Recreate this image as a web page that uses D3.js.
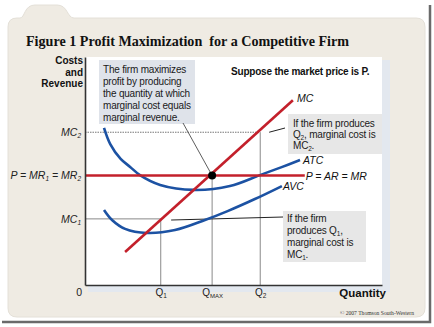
<!DOCTYPE html>
<html>
<head>
<meta charset="utf-8">
<script src="https://cdn.jsdelivr.net/npm/d3@7"></script>
<style>
  body { margin: 0; background: #fff; }
  svg { display: block; font-family: "Liberation Sans", Arial, sans-serif; }
</style>
</head>
<body>
<svg id="chart" width="434" height="327"></svg>
<script>
// ---- data (quantity 0..100, cost 0..100) ----
const qTicks = [25.5, 42.8, 59];              // Q1, QMAX, Q2
const qTickLabels = [["Q", "1"], ["Q", "MAX"], ["Q", "2"]];
const costTicks = [29, 48, 67];               // MC1, P, MC2
const priceEnd = 74;
const mcPoints = [[13.5, 14.5], [70, 81]];
const atcPoints = [[6.4, 68.9], [8.5, 61.8], [12, 55.3], [15.2, 51.8], [18.5, 48.2], [25.3, 43.9], [36.7, 41.7], [48.8, 43.4], [58.9, 48.2], [66, 51.6], [72.4, 54.8]];
const avcPoints = [[6.4, 32.9], [9.1, 28.5], [13.5, 24.6], [20.9, 22.8], [30.3, 24.1], [40.4, 28.5], [48, 32.4], [57.2, 37.7], [66.3, 43.4]];

const svg = d3.select("#chart");
const margin = {top: 57, right: 52, bottom: 42, left: 85};
const width = 434, height = 327;

const x = d3.scaleLinear().domain([0, 100]).range([margin.left, width - margin.right]);
const y = d3.scaleLinear().domain([0, 100]).range([height - margin.bottom, margin.top]);

const red = "#c3202b", blue = "#1c52a3";

// frame shadow + beige card with tab
svg.append("path")
  .attr("d", "M2,322 L430,322 L430,5")
  .attr("fill", "none").attr("stroke", "#6a6a6a").attr("stroke-width", 2.5);
svg.append("path")
  .attr("d", "M8,27 Q8,18 17,18 L20,18 C25,18 24,5 35,5 L57,5 C68,5 67,18 74,18 L416,18 Q425,18 425,27 L425,308 Q425,317 416,317 L17,317 Q8,317 8,308 Z")
  .attr("fill", "#efebe3").attr("stroke", "#e4e0d8").attr("stroke-width", 1);

svg.append("text")
  .attr("x", 26).attr("y", 46)
  .attr("font-family", "'Liberation Serif', 'Times New Roman', serif")
  .attr("font-weight", "bold").attr("font-size", 15).attr("fill", "#111")
  .attr("xml:space", "preserve")
  .attr("textLength", 323).attr("lengthAdjust", "spacingAndGlyphs")
  .text("Figure 1 Profit Maximization  for a Competitive Firm");

// plot panel
svg.append("rect").attr("x", x(0) + 3).attr("y", y(100) + 3)
  .attr("width", x(100) - x(0) + 5).attr("height", y(0) - y(100) + 4).attr("fill", "#e3e8ef");
svg.append("rect").attr("x", x(0)).attr("y", y(100))
  .attr("width", x(100) - x(0)).attr("height", y(0) - y(100)).attr("fill", "#fff");

// guide lines
const g = svg.append("g");
g.append("line").attr("x1", x(0)).attr("x2", x(qTicks[2])).attr("y1", y(costTicks[2])).attr("y2", y(costTicks[2]))
  .attr("stroke", "#777").attr("stroke-width", 1).attr("stroke-dasharray", "1.5,1");
g.append("line").attr("x1", x(0)).attr("x2", x(qTicks[0])).attr("y1", y(costTicks[0])).attr("y2", y(costTicks[0]))
  .attr("stroke", "#888").attr("stroke-width", 1);
qTicks.forEach((q, i) => {
  g.append("line").attr("x1", x(q)).attr("x2", x(q)).attr("y1", y(costTicks[i])).attr("y2", y(0))
    .attr("stroke", "#8a8a8a").attr("stroke-width", 1);
});

// annotation boxes
function box(bx, by, bw, bh, fill, lines, tx, ty, lh) {
  svg.append("rect").attr("x", bx).attr("y", by).attr("width", bw).attr("height", bh).attr("fill", fill);
  const t = svg.append("text").attr("font-size", 10).attr("fill", "#1a1a1a").attr("letter-spacing", -0.2);
  lines.forEach((ln, i) => {
    const row = t.append("tspan").attr("x", tx).attr("y", ty + i * lh);
    ln.forEach(part => {
      if (typeof part === "string") row.append("tspan").text(part);
      else row.append("tspan").attr("font-size", 6.5).attr("dy", 2).text(part.sub)
        .clone().attr("font-size", 10).attr("dy", -2).text(part.after || "");
    });
  });
}
box(99, 60, 96, 64, "#dfe3ea",
  [["The firm maximizes"], ["profit by producing"], ["the quantity at which"], ["marginal cost equals"], ["marginal revenue."]],
  103, 73, 12);
box(288, 114, 94, 40, "#e7e7e7",
  [["If the firm produces"], ["Q", {sub: "2", after: ", marginal cost is"}], ["MC", {sub: "2", after: "."}]],
  293, 127, 11);
box(283, 211, 83, 51, "#e7e7e7",
  [["If the firm"], ["produces Q", {sub: "1", after: ","}], ["marginal cost is"], ["MC", {sub: "1", after: "."}]],
  287, 222, 12);

// pointers
svg.append("line").attr("x1", 183).attr("y1", 123).attr("x2", x(qTicks[1])).attr("y2", y(costTicks[1]))
  .attr("stroke", "#333").attr("stroke-width", 0.8);
svg.append("line").attr("x1", 285).attr("y1", 128).attr("x2", x(62)).attr("y2", y(67))
  .attr("stroke", "#222").attr("stroke-width", 1);
svg.append("line").attr("x1", 283).attr("y1", 217).attr("x2", x(29)).attr("y2", y(28.5))
  .attr("stroke", "#222").attr("stroke-width", 1);

// curves
const line = d3.line().x(d => x(d[0])).y(d => y(d[1])).curve(d3.curveCatmullRom);
svg.append("path").datum(atcPoints).attr("d", line).attr("fill", "none").attr("stroke", blue).attr("stroke-width", 2.6);
svg.append("path").datum(avcPoints).attr("d", line).attr("fill", "none").attr("stroke", blue).attr("stroke-width", 2.6);
svg.append("line").attr("x1", x(0)).attr("x2", x(priceEnd)).attr("y1", y(costTicks[1])).attr("y2", y(costTicks[1]))
  .attr("stroke", red).attr("stroke-width", 2.6);
svg.append("path").datum(mcPoints).attr("d", d3.line().x(d => x(d[0])).y(d => y(d[1])))
  .attr("fill", "none").attr("stroke", red).attr("stroke-width", 2.6);
svg.append("circle").attr("cx", x(qTicks[1])).attr("cy", y(costTicks[1])).attr("r", 4).attr("fill", "#000");

// curve labels
const lab = svg.append("g").attr("font-size", 10.5).attr("font-style", "italic").attr("fill", "#111");
lab.append("text").attr("x", x(mcPoints[1][0]) + 4).attr("y", y(mcPoints[1][1]) + 2).text("MC");
lab.append("text").attr("x", x(atcPoints[atcPoints.length - 1][0]) + 3).attr("y", y(atcPoints[atcPoints.length - 1][1]) + 4).text("ATC");
lab.append("text").attr("x", x(avcPoints[avcPoints.length - 1][0]) + 1).attr("y", y(avcPoints[avcPoints.length - 1][1]) + 4).text("AVC");
lab.append("text").attr("x", x(priceEnd) + 1).attr("y", y(costTicks[1]) + 4).attr("xml:space", "preserve").text("P = AR = MR");

svg.append("text").attr("x", 231).attr("y", 75).attr("font-size", 10).attr("font-weight", "bold")
  .attr("letter-spacing", -0.2).attr("fill", "#111").text("Suppose the market price is P.");

// axes
const xAxis = svg.append("g").attr("transform", `translate(0,${y(0)})`)
  .call(d3.axisBottom(x).tickValues(qTicks).tickSize(0).tickSizeOuter(0).tickPadding(4));
const yAxis = svg.append("g").attr("transform", `translate(${x(0)},0)`)
  .call(d3.axisLeft(y).tickValues(costTicks).tickSize(0).tickSizeOuter(0).tickPadding(4));
[xAxis, yAxis].forEach(a => a.select(".domain").attr("stroke", "#333").attr("stroke-width", 1.6));

xAxis.selectAll(".tick text").each(function(d, i) {
  const t = d3.select(this).text("").attr("font-size", 10).attr("fill", "#222")
    .attr("font-family", "'Liberation Sans', Arial, sans-serif");
  t.append("tspan").text(qTickLabels[i][0]);
  t.append("tspan").attr("font-size", qTickLabels[i][1].length > 1 ? 6 : 6.5).attr("dy", 2).text(qTickLabels[i][1]);
});
const yLabels = [[["MC", ""], ["1", "sub"]], [["P", ""], [" = ", ""], ["MR", ""], ["1", "sub"], [" = ", ""], ["MR", ""], ["2", "sub"]], [["MC", ""], ["2", "sub"]]];
yAxis.selectAll(".tick text").each(function(d, i) {
  const t = d3.select(this).text("").attr("font-size", 10.5).attr("font-style", "italic").attr("fill", "#222")
    .attr("font-family", "'Liberation Sans', Arial, sans-serif").attr("xml:space", "preserve");
  let low = false;
  yLabels[i].forEach(([s, k]) => {
    const sp = t.append("tspan").text(s);
    if (k === "sub") { sp.attr("font-size", 6.5).attr("dy", 2); low = true; }
    else if (low) { sp.attr("dy", -2); low = false; }
  });
});

svg.append("text").attr("x", 82).attr("y", 296).attr("text-anchor", "end").attr("font-size", 10.5).attr("fill", "#222").text("0");

const yt = svg.append("text").attr("text-anchor", "end").attr("font-size", 10).attr("font-weight", "bold").attr("fill", "#111");
["Costs", "and", "Revenue"].forEach((s, i) => yt.append("tspan").attr("x", 83).attr("y", 64 + i * 11.5).text(s));
svg.append("text").attr("x", 386).attr("y", 297).attr("text-anchor", "end").attr("font-size", 11.5)
  .attr("font-weight", "bold").attr("fill", "#111").text("Quantity");
svg.append("text").attr("x", 340).attr("y", 315).attr("font-size", 5.5)
  .attr("textLength", 74).attr("lengthAdjust", "spacingAndGlyphs")
  .attr("font-family", "'Liberation Serif', serif").attr("fill", "#333").text("© 2007 Thomson South-Western");
</script>
</body>
</html>
